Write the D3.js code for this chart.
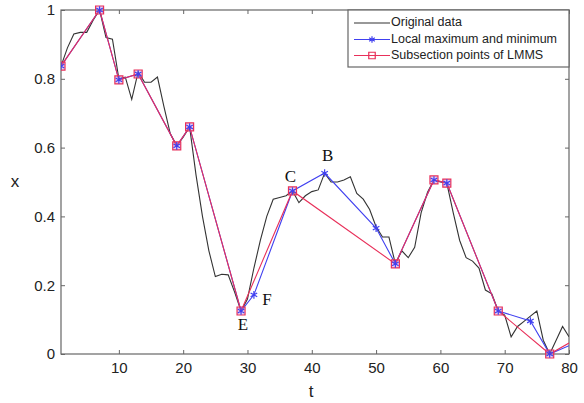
<!DOCTYPE html>
<html><head><meta charset="utf-8">
<script src="https://cdn.jsdelivr.net/npm/d3@7"></script>
<style>body{margin:0;background:#fff}</style>
</head><body><svg id="c" width="584" height="403"></svg>
<script>
// Original data, t = 1..80
const tOrig = d3.range(1, 81);
const xOrig = [0.837,0.89,0.93,0.935,0.935,0.97,1.0,0.92,0.915,0.80,
  0.805,0.74,0.82,0.79,0.79,0.805,0.72,0.64,0.605,0.63,
  0.66,0.52,0.40,0.30,0.225,0.232,0.23,0.18,0.125,0.16,
  0.25,0.33,0.40,0.45,0.455,0.46,0.474,0.44,0.46,0.472,
  0.477,0.526,0.50,0.50,0.506,0.515,0.467,0.45,0.42,0.37,
  0.34,0.34,0.262,0.30,0.28,0.31,0.41,0.47,0.506,0.50,
  0.497,0.41,0.33,0.28,0.27,0.25,0.186,0.175,0.125,0.113,
  0.05,0.08,0.095,0.11,0.125,0.04,0.0,0.04,0.08,0.05];
// Local maximum and minimum
const tLM = [1,7,10,13,19,21,29,31,37,42,50,53,59,61,69,74,77];
const xLM = [0.837,1.0,0.797,0.814,0.605,0.66,0.125,0.172,0.474,0.526,0.366,0.262,0.506,0.497,0.125,0.096,0.0];
const tLMEnd = 80, xLMEnd = 0.024;
// Subsection points of LMMS
const tSub = [1,7,10,13,19,21,29,37,53,59,61,69,77];
const xSub = [0.837,1.0,0.797,0.814,0.605,0.66,0.125,0.474,0.262,0.506,0.497,0.125,0.0];
const tSubEnd = 80, xSubEnd = 0.032;
// Ticks
const xTicks = [10,20,30,40,50,60,70,80];
const yTicks = [0,0.2,0.4,0.6,0.8,1];
const yTickLabels = ["0","0.2","0.4","0.6","0.8","1"];
// Annotations
const annLabels = ["B","C","E","F"];
const annT = [42,37,29,31];
const annX = [0.526,0.474,0.125,0.172];
const legendLabels = ["Original data","Local maximum and minimum","Subsection points of LMMS"];

const svg = d3.select("#c");
const L = 61, R = 569, T = 10, B = 354;
const x = d3.scaleLinear().domain([1,80]).range([L,R]);
const y = d3.scaleLinear().domain([0,1]).range([B,T]);
const axisCol = "#666", txtCol = "#222";
const font = "Arial, 'Liberation Sans', sans-serif";

const clip = svg.append("clipPath").attr("id","pc").append("rect")
  .attr("x",L).attr("y",T-6).attr("width",R-L).attr("height",B-T+12);

// axes box
svg.append("rect").attr("x",L).attr("y",T).attr("width",R-L).attr("height",B-T)
  .attr("fill","none").attr("stroke",axisCol).attr("stroke-width",1.2);

const ax = svg.append("g");
ax.append("g").attr("transform",`translate(0,${B})`)
  .call(d3.axisBottom(x).tickValues(xTicks).tickSize(-4).tickPadding(8).tickFormat(d3.format("d")));
ax.append("g").attr("transform",`translate(0,${T})`)
  .call(d3.axisTop(x).tickValues(xTicks).tickSize(-4).tickFormat(""));
ax.append("g").attr("transform",`translate(${L},0)`)
  .call(d3.axisLeft(y).tickValues(yTicks).tickSize(-4).tickPadding(6).tickFormat((d,i)=>yTickLabels[i]));
ax.append("g").attr("transform",`translate(${R},0)`)
  .call(d3.axisRight(y).tickValues(yTicks).tickSize(-4).tickFormat(""));
ax.selectAll(".domain").remove();
ax.selectAll(".tick line").attr("stroke",axisCol);
ax.selectAll(".tick text").attr("fill",txtCol).style("font-family",font).style("font-size","15px");

svg.append("text").attr("x",15).attr("y",183).attr("text-anchor","middle").attr("dominant-baseline","middle")
  .style("font-family",font).style("font-size","17px").attr("fill",txtCol).text("x");
svg.append("text").attr("x",311).attr("y",397).attr("text-anchor","middle")
  .style("font-family",font).style("font-size","17px").attr("fill",txtCol).text("t");

const plot = svg.append("g").attr("clip-path","url(#pc)");
const line = d3.line().x(d=>x(d[0])).y(d=>y(d[1]));

const blackCol = "#333", blueCol = "#4040f0", redCol = "#e8305a";

plot.append("path").datum(tOrig.map((t,i)=>[t,xOrig[i]]))
  .attr("d",line).attr("fill","none").attr("stroke",blackCol).attr("stroke-width",1.1);

const lmPts = tLM.map((t,i)=>[t,xLM[i]]);
const subPts = tSub.map((t,i)=>[t,xSub[i]]);
plot.append("path").datum(lmPts.concat([[tLMEnd,xLMEnd]]))
  .attr("d",line).attr("fill","none").attr("stroke",blueCol).attr("stroke-width",1.1);
plot.append("path").datum(subPts.concat([[tSubEnd,xSubEnd]]))
  .attr("d",line).attr("fill","none").attr("stroke",redCol).attr("stroke-width",1.1);

const astType = d3.symbolAsterisk || d3.symbolCross;
plot.selectAll(".sq").data(subPts).join("path")
  .attr("transform",d=>`translate(${x(d[0])},${y(d[1])})`)
  .attr("d",d3.symbol(d3.symbolSquare,64)).attr("fill","rgba(200,120,200,0.35)")
  .attr("stroke",redCol).attr("stroke-width",1.2);
plot.selectAll(".st").data(lmPts).join("path")
  .attr("transform",d=>`translate(${x(d[0])},${y(d[1])})`)
  .attr("d",d3.symbol(astType,40)).attr("fill","none")
  .attr("stroke",blueCol).attr("stroke-width",1.2);

// annotations
const annDx = [3,-2,2,13], annDy = [-16,-13,15,6];
svg.selectAll(".ann").data(annLabels).join("text")
  .attr("x",(d,i)=>x(annT[i])+annDx[i]).attr("y",(d,i)=>y(annX[i])+annDy[i])
  .attr("text-anchor","middle").attr("dominant-baseline","middle")
  .style("font-family","'Liberation Serif','DejaVu Serif',serif").style("font-size","17px")
  .attr("fill","#111").text(d=>d);

// legend
const lg = svg.append("g");
lg.append("rect").attr("x",348).attr("y",T).attr("width",R-348).attr("height",57)
  .attr("fill","#fff").attr("stroke",axisCol).attr("stroke-width",1.2);
const lgY = [23,39.5,55.5];
const cols = [blackCol, blueCol, redCol];
legendLabels.forEach((lab,i)=>{
  lg.append("line").attr("x1",354).attr("x2",390).attr("y1",lgY[i]).attr("y2",lgY[i])
    .attr("stroke",cols[i]).attr("stroke-width",1.1);
  if(i===1) lg.append("path").attr("transform",`translate(372,${lgY[i]})`)
    .attr("d",d3.symbol(astType,30)).attr("fill","none").attr("stroke",blueCol).attr("stroke-width",1.2);
  if(i===2) lg.append("path").attr("transform",`translate(372,${lgY[i]})`)
    .attr("d",d3.symbol(d3.symbolSquare,42)).attr("fill","none").attr("stroke",redCol).attr("stroke-width",1.2);
  lg.append("text").attr("x",391).attr("y",lgY[i]).attr("dominant-baseline","middle")
    .style("font-family",font).style("font-size","12.5px").attr("fill",txtCol).text(lab);
});
</script></body></html>
